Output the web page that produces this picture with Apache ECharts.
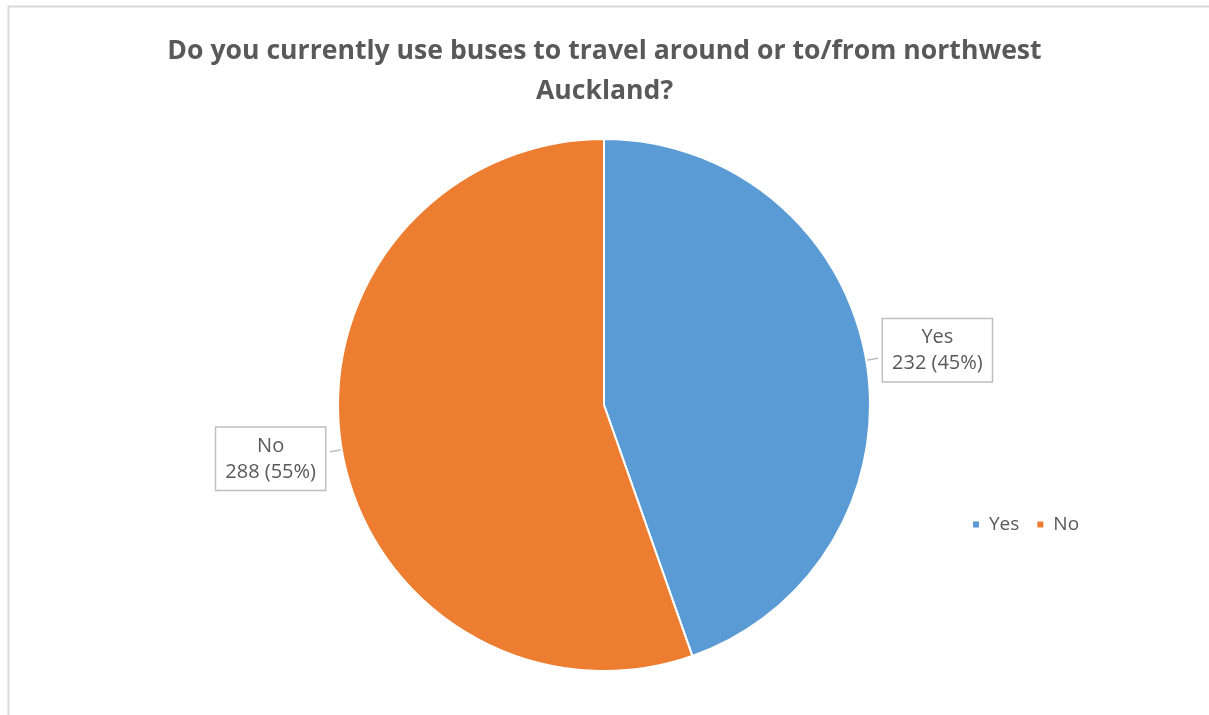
<!DOCTYPE html>
<html>
<head>
<meta charset="utf-8">
<script src="https://cdn.jsdelivr.net/npm/echarts@6/dist/echarts.min.js"></script>
<style>html,body{margin:0;padding:0;background:#fff}#c{width:1209px;height:715px}</style>
</head>
<body>
<div id="c"></div>
<script>
const titleText = 'Do you currently use buses to travel around or to/from northwest\nAuckland?';
const categories = ['Yes', 'No'];
const counts = [232, 288];
const percents = [45, 55];
const colors = ['#5B9BD5', '#ED7D31'];

const chart = echarts.init(document.getElementById('c'));
const data = categories.map((c, i) => ({ name: c, value: counts[i], pct: percents[i], itemStyle: { color: colors[i] } }));

chart.setOption({
  animation: false,
  backgroundColor: '#fff',
  graphic: [{
    type: 'rect', left: 6, top: 4, shape: { width: 1210, height: 720 },
    style: { fill: 'none', stroke: '#d9d9d9', lineWidth: 2 }, silent: true
  }],
  title: {
    text: titleText, left: 'center', top: 26,
    textStyle: { fontFamily: 'Open Sans', fontWeight: 'bold', fontSize: 26.6, color: '#595959', lineHeight: 40 }
  },
  legend: {
    data: categories, orient: 'horizontal', left: 966, top: 510,
    icon: 'rect', itemWidth: 8, itemHeight: 8, itemGap: 16,
    textStyle: { fontFamily: 'Open Sans', fontSize: 19, color: '#595959', padding: [0, 0, 0, 4] }
  },
  series: [{
    type: 'pie', center: [604, 405], radius: 266, startAngle: 90, clockwise: true,
    data: data,
    itemStyle: { borderColor: '#fff', borderWidth: 2 },
    label: {
      show: true, position: 'outside',
      formatter: p => '{a|' + p.name + '}\n{a|' + p.value + ' (' + p.data.pct + '%)}',
      backgroundColor: '#fff', borderColor: '#bfbfbf', borderWidth: 1.5, padding: [5, 9, 5, 9],
      rich: { a: { fontFamily: 'Open Sans', fontSize: 20, color: '#595959', lineHeight: 26, align: 'center' } }
    },
    labelLine: { show: true, length: 12, length2: 0, lineStyle: { color: '#bfbfbf', width: 1.5 } },
    labelLayout: p => ({ dy: p.dataIndex === 0 ? -8 : 7 })
  }]
});
</script>
</body>
</html>
